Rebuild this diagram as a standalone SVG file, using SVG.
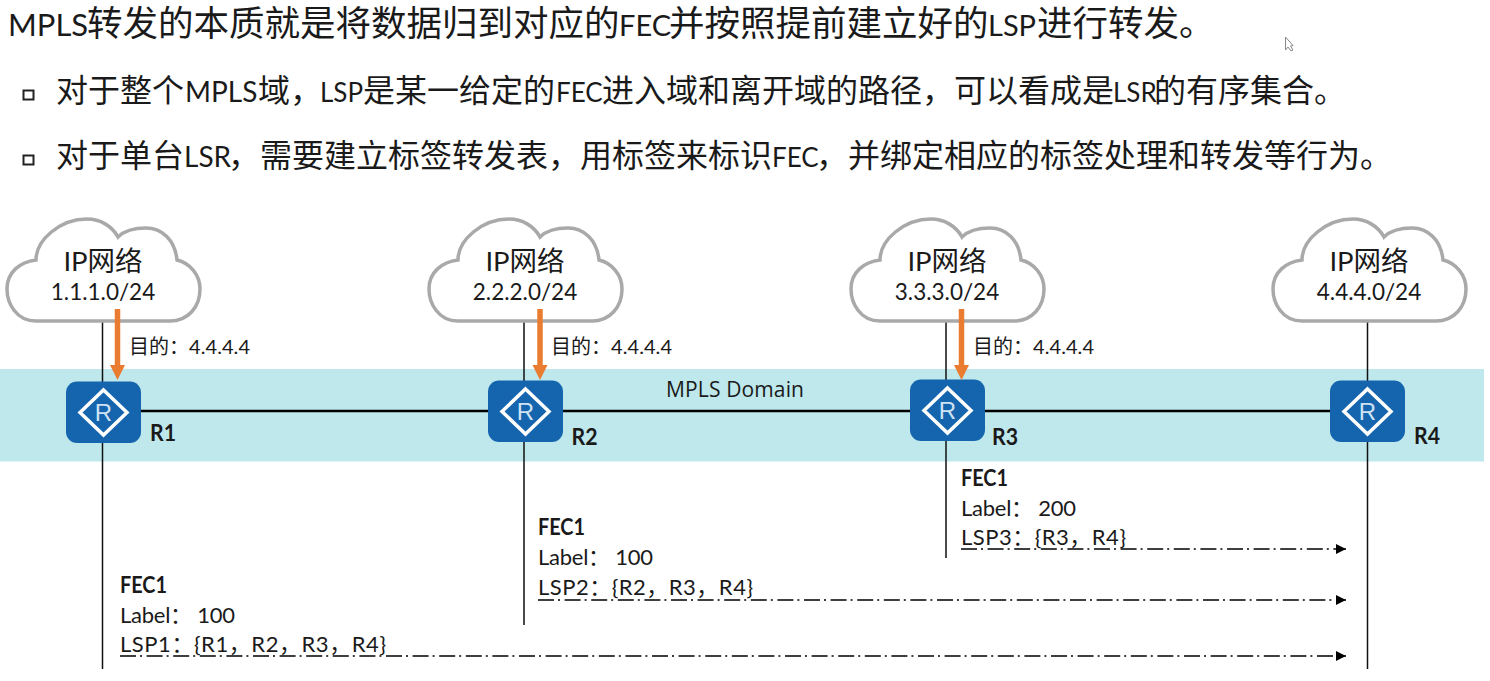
<svg xmlns="http://www.w3.org/2000/svg" xmlns:xlink="http://www.w3.org/1999/xlink" width="1490" height="681" viewBox="0 0 1490 681">
<style>
text{font-family:Lato,"Noto Sans CJK SC","Noto Sans",sans-serif;fill:#1a1a1a}
.h{font-size:35.500px}.b{font-size:32px}
.hl{font-size:31px}.hs{font-size:29px}.bl{font-size:28px}.bs{font-size:26px}
.c1{font-size:27.500px;text-anchor:middle}.c2{font-size:22.500px;text-anchor:middle}
.d{font-size:20px}.bd{font-size:23px;font-weight:700}.l{font-size:22px}
.vl{stroke:#111;stroke-width:1.500;fill:none}
.dd{stroke:#000;stroke-width:1.600;fill:none;stroke-dasharray:16 4 2 4.600;marker-end:url(#ah)}
.or{stroke:#E97C30;stroke-width:5.500;fill:none}
.cl{fill:#fff;stroke:#A9A9A9;stroke-width:3.500}
</style>
<defs>
<marker id="ah" markerUnits="userSpaceOnUse" markerWidth="12" markerHeight="12" refX="10" refY="5" orient="auto"><path d="M0,0L10,5L0,10z" fill="#000"/></marker>
<path id="cloud" d="M36,321C16,321 7,303 7,289C7,272 20,262 36,260C36,240 60,219 87,219C100,219 112,226 118,237C125,230 135,228 146,228C162,228 175,240 177,260C190,263 200,275 200,289C200,307 188,321 170,321Z"/>
<g id="rt">
<rect x="-37.500" y="-31" width="75" height="61.500" rx="11" fill="#1565AE"/>
<path d="M0,-22.500L23.500,0L0,22.500L-23.500,0Z" fill="none" stroke="#fff" stroke-width="3.500"/>
<text x="0" y="8.500" text-anchor="middle" style="font-size:24px;fill:#CFE2F3;font-family:'Liberation Sans',sans-serif">R</text>
</g>
</defs>
<rect width="1490" height="681" fill="#fff"/>
<g id="heading">
<text class="h" y="36"><tspan class="hl" x="8">MPLS</tspan><tspan x="87">转发的本质就是将数据归到对应的</tspan><tspan class="hs" x="619">FEC</tspan><tspan x="669">并按照提前建立好的</tspan><tspan class="hs" x="988">LSP</tspan><tspan x="1037">进行转发。</tspan></text>
<rect x="23.500" y="90.500" width="10" height="9" fill="none" stroke="#222" stroke-width="2"/>
<text class="b" y="102"><tspan x="56">对于整个</tspan><tspan class="bl" x="185">MPLS</tspan><tspan x="258">域，</tspan><tspan class="bs" x="320">LSP</tspan><tspan x="363">是某一给定的</tspan><tspan class="bs" x="556">FEC</tspan><tspan x="602">进入域和离开域的路径，可以看成是</tspan><tspan class="bs" x="1113">LSR</tspan><tspan x="1154">的有序集合。</tspan></text>
<rect x="23.500" y="155.500" width="10" height="9" fill="none" stroke="#222" stroke-width="2"/>
<text class="b" y="167"><tspan x="56">对于单台</tspan><tspan class="bl" x="184">LSR</tspan><tspan x="228">，</tspan><tspan x="260">需要建立标签转发表，用标签来标识</tspan><tspan class="bs" x="772">FEC</tspan><tspan x="816">，</tspan><tspan x="848">并绑定相应的标签处理和转发等行为。</tspan></text>
</g>
<polygon id="cursor" points="1285.500,37 1285.500,50 1288,47 1291,51 1293,50 1290.500,46 1293,45.500" fill="#fff" stroke="#888" stroke-width="1"/>
<rect id="domain" x="0" y="369" width="1484" height="92.500" fill="#BEE8EC"/>
<text x="666" y="397" style="font-size:21px;font-family:'Open Sans',sans-serif" textLength="138">MPLS Domain</text>
<g id="connectors">
<path class="vl" d="M102.500,321V669M524,321V625M946,321V558M1367.500,321V669"/>
<path d="M141,411H1330" stroke="#000" stroke-width="2.500" fill="none"/>
<path class="dd" d="M961,549H1346"/>
<path class="dd" d="M538,600H1346"/>
<path class="dd" d="M120,656H1346"/>
</g>
<g id="cloud1"><use href="#cloud" class="cl"/><text class="c1" x="103" y="271">IP网络</text><text class="c2" x="103" y="300">1.1.1.0/24</text></g>
<g id="cloud2"><use href="#cloud" class="cl" x="422"/><text class="c1" x="525" y="271">IP网络</text><text class="c2" x="525" y="300">2.2.2.0/24</text></g>
<g id="cloud3"><use href="#cloud" class="cl" x="844"/><text class="c1" x="947" y="271">IP网络</text><text class="c2" x="947" y="300">3.3.3.0/24</text></g>
<g id="cloud4"><use href="#cloud" class="cl" x="1266"/><text class="c1" x="1369" y="271">IP网络</text><text class="c2" x="1369" y="300">4.4.4.0/24</text></g>
<g id="r1"><use href="#rt" x="103.500" y="412.500"/><text class="bd" x="150" y="441" textLength="26" lengthAdjust="spacingAndGlyphs">R1</text></g>
<g id="r2"><use href="#rt" x="525.500" y="411.500"/><text class="bd" x="571.500" y="445" textLength="26" lengthAdjust="spacingAndGlyphs">R2</text></g>
<g id="r3"><use href="#rt" x="947.500" y="410.500"/><text class="bd" x="992" y="445" textLength="26" lengthAdjust="spacingAndGlyphs">R3</text></g>
<g id="r4"><use href="#rt" x="1367.500" y="411.500"/><text class="bd" x="1414" y="444" textLength="26" lengthAdjust="spacingAndGlyphs">R4</text></g>
<g id="flows">
<g id="flow1"><path class="or" d="M117.500,309V366"/><path d="M110,365H125L117.500,380Z" fill="#E97C30"/><text class="d" x="129" y="354" textLength="121">目的：4.4.4.4</text></g>
<g id="flow2"><path class="or" d="M540,309V366"/><path d="M532.500,365H547.500L540,380Z" fill="#E97C30"/><text class="d" x="551" y="354" textLength="121">目的：4.4.4.4</text></g>
<g id="flow3"><path class="or" d="M961.500,309V366"/><path d="M954,365H969L961.500,380Z" fill="#E97C30"/><text class="d" x="973" y="354" textLength="121">目的：4.4.4.4</text></g>
</g>
<g id="fec1"><text class="bd" x="120" y="593" textLength="47" lengthAdjust="spacingAndGlyphs">FEC1</text><text class="l" x="120" y="623" textLength="115">Label： 100</text><text class="l" x="120" y="652" textLength="266">LSP1：{R1，R2，R3，R4}</text></g>
<g id="fec2"><text class="bd" x="538" y="535" textLength="47" lengthAdjust="spacingAndGlyphs">FEC1</text><text class="l" x="538" y="565" textLength="115">Label： 100</text><text class="l" x="538" y="595" textLength="215">LSP2：{R2，R3，R4}</text></g>
<g id="fec3"><text class="bd" x="961" y="486" textLength="47" lengthAdjust="spacingAndGlyphs">FEC1</text><text class="l" x="961" y="516" textLength="115">Label： 200</text><text class="l" x="961" y="545" textLength="165">LSP3：{R3，R4}</text></g>
</svg>
